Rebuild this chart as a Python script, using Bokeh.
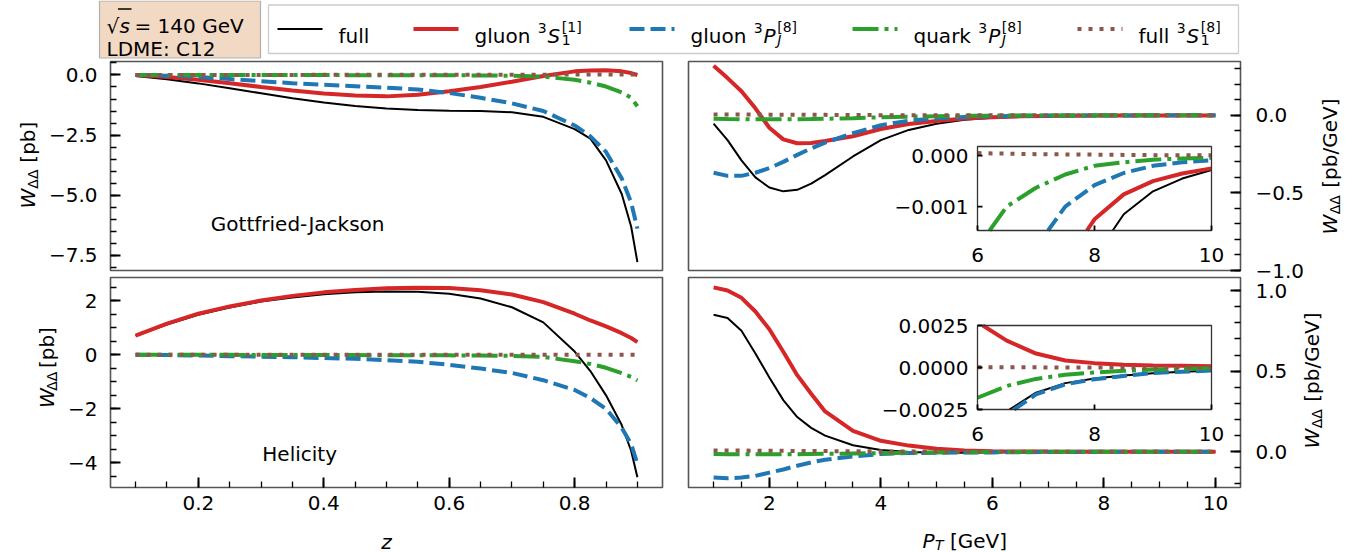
import numpy as np
from bokeh.plotting import figure
from bokeh.models import Range1d, FixedTicker
from bokeh.layouts import row, column
from bokeh.core.properties import value
from bokeh.embed import file_html
from bokeh.resources import INLINE

FONT = "DejaVu Sans"

# ---------------- data ----------------
z = [0.1, 0.15, 0.2, 0.25, 0.3, 0.35, 0.4, 0.45, 0.5, 0.55, 0.6, 0.65, 0.7,
     0.75, 0.8, 0.825, 0.85, 0.875, 0.89, 0.9]

# Gottfried-Jackson frame, W vs z
gj_full = [-0.04, -0.18, -0.35, -0.55, -0.76, -0.97, -1.14, -1.29, -1.39, -1.46, -1.49, -1.50, -1.55,
           -1.74, -2.25, -2.65, -3.55, -4.95, -6.3, -7.78]
gj_g_s1 = [0.0, -0.08, -0.2, -0.34, -0.5, -0.65, -0.77, -0.85, -0.89, -0.82, -0.68, -0.5, -0.28,
           -0.04, 0.15, 0.19, 0.2, 0.15, 0.08, 0.0]
gj_g_pj = [0.0, -0.03, -0.08, -0.17, -0.26, -0.34, -0.41, -0.47, -0.53, -0.6, -0.75, -0.95, -1.18,
           -1.5, -2.1, -2.55, -3.2, -4.3, -5.3, -6.39]
gj_q_pj = [0.0, 0.0, 0.0, 0.0, 0.0, 0.0, 0.0, -0.01, -0.01, -0.01, -0.01, -0.02, -0.03,
           -0.07, -0.2, -0.32, -0.48, -0.72, -0.95, -1.3]
gj_s8 = [0.0, 0.0, 0.0, 0.0, 0.0, 0.0, 0.01, 0.01, 0.01, 0.01, 0.01, 0.01, 0.01,
         0.01, 0.02, 0.02, 0.02, 0.02, 0.02, 0.02]

# Helicity frame, W vs z
hel_full = [0.70, 1.12, 1.48, 1.75, 1.97, 2.12, 2.24, 2.31, 2.34, 2.33, 2.26, 2.08, 1.76,
            1.2, 0.12, -0.6, -1.5, -2.6, -3.55, -4.53]
hel_g_s1 = [0.71, 1.15, 1.52, 1.79, 2.01, 2.18, 2.31, 2.40, 2.46, 2.48, 2.47, 2.39, 2.23,
            1.95, 1.52, 1.27, 1.05, 0.8, 0.62, 0.47]
hel_g_pj = [0.0, -0.01, -0.03, -0.05, -0.07, -0.09, -0.12, -0.15, -0.2, -0.26, -0.37, -0.51, -0.67,
            -0.94, -1.3, -1.6, -2.0, -2.7, -3.3, -4.04]
hel_q_pj = [0.0, 0.0, 0.0, 0.0, -0.01, -0.01, -0.01, -0.01, -0.02, -0.02, -0.02, -0.03, -0.04,
            -0.08, -0.24, -0.34, -0.48, -0.68, -0.82, -0.95]
hel_s8 = [0.0, 0.0, 0.0, 0.0, 0.0, 0.0, 0.0, 0.0, 0.0, 0.0, 0.0, 0.0, 0.0,
          0.0, 0.0, 0.0, 0.0, 0.0, 0.0, 0.0]

pt = [1.0, 1.25, 1.5, 1.75, 2.0, 2.25, 2.5, 2.75, 3.0, 3.5, 4.0, 4.5, 5.0, 5.5,
      6.0, 6.5, 7.0, 7.5, 8.0, 8.5, 9.0, 9.5, 10.0]

# Gottfried-Jackson frame, W vs P_T
gjpt_full = [-0.053, -0.16, -0.29, -0.40, -0.465, -0.49, -0.48, -0.44, -0.385, -0.265, -0.16, -0.094,
             -0.054, -0.029, -0.016, -0.0088, -0.0052, -0.0032, -0.0020, -0.00115, -0.0007, -0.00045, -0.00028]
gjpt_g_s1 = [0.32, 0.24, 0.155, 0.045, -0.08, -0.155, -0.18, -0.178, -0.165, -0.135, -0.088, -0.056,
             -0.036, -0.021, -0.012, -0.0065, -0.0036, -0.0021, -0.00125, -0.00076, -0.0005, -0.00035, -0.00025]
gjpt_g_pj = [-0.37, -0.39, -0.39, -0.37, -0.34, -0.30, -0.255, -0.213, -0.176, -0.115, -0.064, -0.035,
             -0.019, -0.0105, -0.0058, -0.0032, -0.0018, -0.001, -0.00058, -0.00034, -0.0002, -0.00013, -0.00009]
gjpt_q_pj = [-0.022, -0.024, -0.025, -0.026, -0.026, -0.026, -0.025, -0.024, -0.022, -0.018, -0.013, -0.0085,
             -0.0052, -0.0031, -0.0018, -0.001, -0.00063, -0.00037, -0.0002, -0.00013, -0.00008, -0.000055, -0.00004]
gjpt_s8 = [0.006, 0.0058, 0.0055, 0.005, 0.0046, 0.0042, 0.0038, 0.0034, 0.003, 0.0022, 0.0012, 0.0007,
           0.0003, 0.00012, 0.00005, 0.00004, 0.00003, 0.000025, 0.00002, 0.000015, 0.00001, 0.000008, 0.000006]

# Helicity frame, W vs P_T
helpt_full = [0.85, 0.83, 0.75, 0.61, 0.46, 0.32, 0.215, 0.148, 0.10, 0.04, 0.011, -0.002,
              -0.006, -0.0058, -0.004, -0.0026, -0.0015, -0.00093, -0.00066, -0.00047, -0.00034, -0.00026, -0.0002]
helpt_g_s1 = [1.02, 1.0, 0.955, 0.87, 0.76, 0.62, 0.475, 0.36, 0.25, 0.13, 0.068, 0.038,
              0.018, 0.0075, 0.0027, 0.0016, 0.00083, 0.00042, 0.00026, 0.00017, 0.00012, 0.0001, 0.00008]
helpt_g_pj = [-0.16, -0.165, -0.16, -0.15, -0.13, -0.11, -0.087, -0.066, -0.05, -0.03, -0.014, -0.0085,
              -0.0065, -0.0052, -0.0042, -0.0028, -0.0016, -0.001, -0.0007, -0.0005, -0.00033, -0.00025, -0.00018]
helpt_q_pj = [-0.014, -0.015, -0.015, -0.016, -0.016, -0.016, -0.015, -0.014, -0.013, -0.011, -0.009, -0.0065,
              -0.0045, -0.003, -0.0018, -0.0011, -0.00068, -0.00043, -0.0003, -0.0002, -0.00012, -0.00008, -0.00004]
helpt_s8 = [0.008, 0.0075, 0.007, 0.0065, 0.006, 0.0055, 0.005, 0.0045, 0.004, 0.003, 0.002, 0.0012,
            0.0006, 0.0002, 0.00002, 0.00001, 0.00001, 0.0, 0.0, 0.0, 0.0, 0.0, 0.0]

# ticks and tick labels
z_ticks = [0.2, 0.4, 0.6, 0.8]
z_labels = ["0.2", "0.4", "0.6", "0.8"]
pt_ticks = [2, 4, 6, 8, 10]
pt_labels = ["2", "4", "6", "8", "10"]
tl_yticks = [-7.5, -5.0, -2.5, 0.0]
tl_ylabels = ["\u22127.5", "\u22125.0", "\u22122.5", "0.0"]
bl_yticks = [-4, -2, 0, 2]
bl_ylabels = ["\u22124", "\u22122", "0", "2"]
tr_yticks = [-1.0, -0.5, 0.0]
tr_ylabels = ["\u22121.0", "\u22120.5", "0.0"]
br_yticks = [0.0, 0.5, 1.0]
br_ylabels = ["0.0", "0.5", "1.0"]
ins_xticks = [6, 8, 10]
ins_xlabels = ["6", "8", "10"]
ins_gj_yticks = [-0.001, 0.0]
ins_gj_ylabels = ["\u22120.001", "0.000"]
ins_hel_yticks = [-0.0025, 0.0, 0.0025]
ins_hel_ylabels = ["\u22120.0025", "0.0000", "0.0025"]

info_lines = ["= 140 GeV", "LDME: C12"]
panel_names = ["Gottfried-Jackson", "Helicity"]

# ---------------- styles ----------------
STY = [
    dict(color="black", line_width=2),
    dict(color="#d62728", line_width=4),
    dict(color="#1f77b4", line_width=4, line_dash="15 6"),
    dict(color="#2ca02c", line_width=4, line_dash="26 6 4 6"),
    dict(color="#8c564b", line_width=4, line_dash="4 7"),
]
FRAME_COLOR = "#555555"

ADV = {' ': 0.318, 'f': 0.352, 'u': 0.634, 'l': 0.278, 'g': 0.635, 'o': 0.612, 'n': 0.634,
       'q': 0.635, 'a': 0.613, 'r': 0.411, 'k': 0.579, 'S': 0.635, 'P': 0.603, '[': 0.390,
       ']': 0.390, 'J': 0.295, 'T': 0.611, 'W': 0.989, '\u0394': 0.684, 'p': 0.635, 'b': 0.635,
       '/': 0.337, 'G': 0.775, 'e': 0.615, 'V': 0.684, '=': 0.838, 's': 0.521, 'z': 0.525,
       '\u221a': 0.636, '.': 0.318}
for d in "0123456789":
    ADV[d] = 0.636


def tw(s, px):
    return sum(ADV.get(c, 0.62) for c in s) * px


def txt(p, x, y, s, size=20, style="normal", align="left", baseline="alphabetic", angle=0.0):
    p.text(x=[x], y=[y], text=[s], text_font=value(FONT), text_font_size=f"{size}px",
           text_font_style=style, text_align=align, text_baseline=baseline, angle=angle,
           text_color="black")


def canvas(w, h, x0, y0):
    """figure whose data coordinates are page pixels (y negated)"""
    p = figure(width=w, height=h, x_range=Range1d(x0, x0 + w), y_range=Range1d(-(y0 + h), -y0),
               output_backend="svg", toolbar_location=None,
               x_axis_location=None, y_axis_location=None)
    p.min_border_left = p.min_border_right = p.min_border_top = p.min_border_bottom = 0
    p.outline_line_color = None
    p.grid.visible = False
    return p


def panel(w, h, xr, yr, mb, xloc, yloc):
    p = figure(width=w, height=h, x_range=Range1d(*xr), y_range=Range1d(*yr),
               output_backend="svg", toolbar_location=None,
               x_axis_location=xloc, y_axis_location=yloc)
    p.min_border_left, p.min_border_right, p.min_border_top, p.min_border_bottom = mb
    p.grid.visible = False
    p.outline_line_color = FRAME_COLOR
    p.outline_line_width = 1.6
    return p


def style_axis(ax, ticks, minor, labels, standoff, show_labels=True):
    ax.ticker = FixedTicker(ticks=list(ticks), minor_ticks=list(minor))
    ax.major_label_overrides = {float(t): l for t, l in zip(ticks, labels)}
    ax.axis_line_color = None
    ax.major_tick_in = 10
    ax.major_tick_out = 0
    ax.minor_tick_in = 6
    ax.minor_tick_out = 0
    ax.major_tick_line_width = 2
    ax.minor_tick_line_width = 1.3
    ax.major_tick_line_color = "black"
    ax.minor_tick_line_color = "black"
    ax.major_label_text_font = FONT
    ax.major_label_text_font_size = "20px"
    ax.major_label_text_color = "black" if show_labels else None
    ax.major_label_standoff = standoff


def clip(xs, ys, x0, x1, y0, y1):
    runs, cur = [], []
    for i in range(len(xs) - 1):
        ax_, ay, bx, by = xs[i], ys[i], xs[i + 1], ys[i + 1]
        dx, dy = bx - ax_, by - ay
        t0, t1, ok = 0.0, 1.0, True
        for pk, qk in ((-dx, ax_ - x0), (dx, x1 - ax_), (-dy, ay - y0), (dy, y1 - ay)):
            if pk == 0:
                if qk < 0:
                    ok = False
                    break
            else:
                t = qk / pk
                if pk < 0:
                    if t > t1:
                        ok = False
                        break
                    t0 = max(t0, t)
                else:
                    if t < t0:
                        ok = False
                        break
                    t1 = min(t1, t)
        if not ok:
            if cur:
                runs.append(cur)
                cur = []
            continue
        p0 = (ax_ + t0 * dx, ay + t0 * dy)
        p1 = (ax_ + t1 * dx, ay + t1 * dy)
        if t0 > 0 and cur:
            runs.append(cur)
            cur = []
        if not cur:
            cur = [p0]
        cur.append(p1)
        if t1 < 1:
            runs.append(cur)
            cur = []
    if cur:
        runs.append(cur)
    return [[q[0] for q in r] for r in runs], [[q[1] for q in r] for r in runs]


def inset(p, fw, fh, rect, ixr, iyr, xdata, series, yticks, ylabels):
    l, t, r, b = rect
    xpp = (ixr[1] - ixr[0]) / (r - l)
    ypp = (iyr[1] - iyr[0]) / (b - t)
    xs0 = ixr[0] - l * xpp
    ytop = iyr[1] + t * ypp
    p.extra_x_ranges = {"ix": Range1d(xs0, xs0 + fw * xpp)}
    p.extra_y_ranges = {"iy": Range1d(ytop - fh * ypp, ytop)}
    kw = dict(x_range_name="ix", y_range_name="iy")
    p.quad(left=[ixr[0]], right=[ixr[1]], bottom=[iyr[0]], top=[iyr[1]],
           fill_color="white", line_color=None, **kw)
    for ys, sty in zip(series, STY):
        cx, cy = clip(xdata, ys, ixr[0], ixr[1], iyr[0], iyr[1])
        if cx:
            p.multi_line(cx, cy, **sty, **kw)
    p.quad(left=[ixr[0]], right=[ixr[1]], bottom=[iyr[0]], top=[iyr[1]],
           fill_color=None, line_color="#333333", line_width=1.3, **kw)
    tl = 5
    n, m = len(ins_xticks), len(yticks)
    p.segment(x0=ins_xticks, y0=[iyr[0]] * n, x1=ins_xticks, y1=[iyr[0] + tl * ypp] * n,
              line_color="black", line_width=1.8, **kw)
    p.segment(x0=[ixr[0]] * m, y0=yticks, x1=[ixr[0] + tl * xpp] * m, y1=yticks,
              line_color="black", line_width=1.8, **kw)
    p.text(x=ins_xticks, y=[iyr[0]] * n, text=ins_xlabels, text_font=value(FONT),
           text_font_size="20px", text_align="center", text_baseline="alphabetic",
           y_offset=24, text_color="black", **kw)
    p.text(x=[ixr[0]] * m, y=yticks, text=ylabels, text_font=value(FONT),
           text_font_size="20px", text_align="right", text_baseline="middle",
           x_offset=-9, text_color="black", **kw)


def vlabel(p, xb, yc, unit):
    wW = tw("W", 20)
    wD = tw("\u0394\u0394", 14)
    gap = tw(" ", 20) + 1
    wU = tw(unit, 20)
    total = wW + 0.5 + wD + gap + wU
    yb = yc + total / 2
    txt(p, xb, -yb, "W", style="italic", angle=np.pi / 2)
    txt(p, xb + 4.5, -(yb - wW - 0.5), "\u0394\u0394", size=14, angle=np.pi / 2)
    txt(p, xb, -(yb - wW - 0.5 - wD - gap), unit, angle=np.pi / 2)


# ---------------- page geometry ----------------
HDR_H = 60
ROW1_Y, ROW1_H = 60, 213          # frame 61..270
ROW2_Y, ROW2_H = 273, 246         # frame 277..487
BOT_Y = ROW2_Y + ROW2_H
PAGE_H = 552
RIGHT_X = 1248                    # where the right-hand label strip begins

# ---------------- header (info box + legend) ----------------
hdr = canvas(1363, HDR_H, 0, 0)
hdr.quad(left=[99], right=[260], top=[-0.5], bottom=[-57.5],
         fill_color="#f2d9c4", line_color="#b0b0b0", line_width=1.2)
bx0, yb1, yb2 = 106, 25, 48
txt(hdr, bx0, -yb1, "\u221a")
hdr.segment(x0=[bx0 + 11.5], y0=[-(yb1 - 16.5)], x1=[bx0 + 25], y1=[-(yb1 - 16.5)],
            line_color="black", line_width=1.3)
txt(hdr, bx0 + 13, -yb1, "s", style="italic")
txt(hdr, bx0 + 28, -yb1, info_lines[0])
txt(hdr, bx0, -yb2, info_lines[1])

hdr.quad(left=[268], right=[1238], top=[-4.5], bottom=[-53],
         fill_color="white", line_color="#cccccc", line_width=1.3)

LEG_Y = 28.5
legend_defs = [
    ("full", None, None, False, None),
    ("gluon ", "S", "1", False, "[1]"),
    ("gluon ", "P", "J", True, "[8]"),
    ("quark ", "P", "J", True, "[8]"),
    ("full ", "S", "1", False, "[8]"),
]
legend_x = [277, 413, 629, 852, 1077]
for (prefix, letter, sub, sub_it, sup), x0, sty in zip(legend_defs, legend_x, STY):
    hdr.line([x0, x0 + 45], [-LEG_Y, -LEG_Y], **sty)
    x = x0 + 45 + 16
    yb = LEG_Y + 7.3
    txt(hdr, x, -yb, prefix.strip())
    if letter is None:
        continue
    x += tw(prefix, 20)
    txt(hdr, x + 1, -(yb - 8), "3", size=14)
    x += 1 + tw("3", 14) + 1
    txt(hdr, x, -yb, letter, style="italic")
    x += tw(letter, 20) + 1.5
    txt(hdr, x, -(yb + 4), sub, size=14, style="italic" if sub_it else "normal")
    txt(hdr, x, -(yb - 9), sup, size=14)

# ---------------- top row ----------------
sL1 = canvas(43, ROW1_H, 0, ROW1_Y)
vlabel(sL1, 27.5, 166, "[pb]")

TL_YR = (-8.13, 0.56)
tl = panel(632, ROW1_H, (0.06, 0.94), TL_YR, (67, 13, 1, 3), None, "left")
style_axis(tl.yaxis[0], tl_yticks, np.arange(-8.0, 0.51, 0.5), tl_ylabels, 13)
for ys, sty in zip([gj_full, gj_g_s1, gj_g_pj, gj_q_pj, gj_s8], STY):
    tl.line(z, ys, **sty)
tl.text(x=[0.22], y=[-6.21], text=[panel_names[0]], text_font=value(FONT),
        text_font_size="20px", text_color="black", text_baseline="alphabetic")

TR_YR = (-1.0, 0.347)
tr = panel(RIGHT_X - 675, ROW1_H, (0.55, 10.45), TR_YR, (13, 8, 1, 3), None, "right")
style_axis(tr.yaxis[0], tr_yticks, np.arange(-1.0, 0.31, 0.1), tr_ylabels, 0, show_labels=False)
gjpt = [gjpt_full, gjpt_g_s1, gjpt_g_pj, gjpt_q_pj, gjpt_s8]
for ys, sty in zip(gjpt, STY):
    tr.line(pt, ys, **sty)
inset(tr, 552, 209, (289, 85, 523, 169), (6, 10), (-0.00147, 0.00018), pt, gjpt,
      ins_gj_yticks, ins_gj_ylabels)

# ---------------- bottom row ----------------
SL2_W = 60
sL2 = canvas(SL2_W, ROW2_H, 0, ROW2_Y)
vlabel(sL2, 46.5, 382, "[pb]")

bl = panel(675 - SL2_W, ROW2_H, (0.06, 0.94), (-4.91, 2.86), (110 - SL2_W, 13, 4, 32), "below", "left")
style_axis(bl.yaxis[0], bl_yticks, np.arange(-4.5, 2.51, 0.5), bl_ylabels, 13)
style_axis(bl.xaxis[0], z_ticks, np.arange(0.1, 0.901, 0.05), z_labels, 8)
for ys, sty in zip([hel_full, hel_g_s1, hel_g_pj, hel_q_pj, hel_s8], STY):
    bl.line(z, ys, **sty)
bl.text(x=[0.302], y=[-3.66], text=[panel_names[1]], text_font=value(FONT),
        text_font_size="20px", text_color="black", text_baseline="alphabetic")

BR_YR = (-0.222, 1.081)
br = panel(RIGHT_X - 675, ROW2_H, (0.55, 10.45), BR_YR, (13, 8, 4, 32), "below", "right")
style_axis(br.yaxis[0], br_yticks, np.arange(-0.2, 1.01, 0.1), br_ylabels, 0, show_labels=False)
style_axis(br.xaxis[0], pt_ticks, np.arange(1.0, 10.01, 0.5), pt_labels, 8)
helpt = [helpt_full, helpt_g_s1, helpt_g_pj, helpt_q_pj, helpt_s8]
for ys, sty in zip(helpt, STY):
    br.line(pt, ys, **sty)
inset(br, 552, 210, (289, 48, 523, 132), (6, 10), (-0.0025, 0.0025), pt, helpt,
      ins_hel_yticks, ins_hel_ylabels)

# ---------------- x-axis labels ----------------
bot = canvas(RIGHT_X, PAGE_H - BOT_Y, 0, BOT_Y)
txt(bot, 386, -541, "z", style="italic", align="center")
wP = tw("P", 20)
wT = tw("T", 14)
wG = tw(" [GeV]", 20)
xs = 964 - (wP + wT + wG) / 2
txt(bot, xs, -540, "P", style="italic")
txt(bot, xs + wP + 0.5, -544, "T", size=14, style="italic")
txt(bot, xs + wP + wT + 0.5 + tw(" ", 20), -540, "[GeV]")

# ---------------- right strip: right-hand tick labels and axis labels ----------------
sR = canvas(1363 - RIGHT_X, PAGE_H - ROW1_Y, RIGHT_X, ROW1_Y)


def right_ticklabels(p, name, ftop, fbot, yr, ticks, labels):
    pp = (yr[1] - yr[0]) / (fbot - ftop)
    top_val = yr[1] + (ftop - ROW1_Y) * pp
    bot_val = yr[0] - (PAGE_H - fbot) * pp
    ranges = dict(p.extra_y_ranges)
    ranges[name] = Range1d(bot_val, top_val)
    p.extra_y_ranges = ranges
    p.text(x=[1255] * len(ticks), y=ticks, text=labels, y_range_name=name,
           text_font=value(FONT), text_font_size="20px", text_color="black",
           text_align="left", text_baseline="middle")


right_ticklabels(sR, "tr", 61, 270, TR_YR, tr_yticks, tr_ylabels)
right_ticklabels(sR, "br", 277, 487, BR_YR, br_yticks, br_ylabels)
vlabel(sR, 1329.5, 166, "[pb/GeV]")
vlabel(sR, 1311.5, 380, "[pb/GeV]")

left_block = column(row(sL1, tl, tr), row(sL2, bl, br), bot)
layout = column(hdr, row(left_block, sR))
open("out.html", "w").write(file_html(layout, INLINE))
